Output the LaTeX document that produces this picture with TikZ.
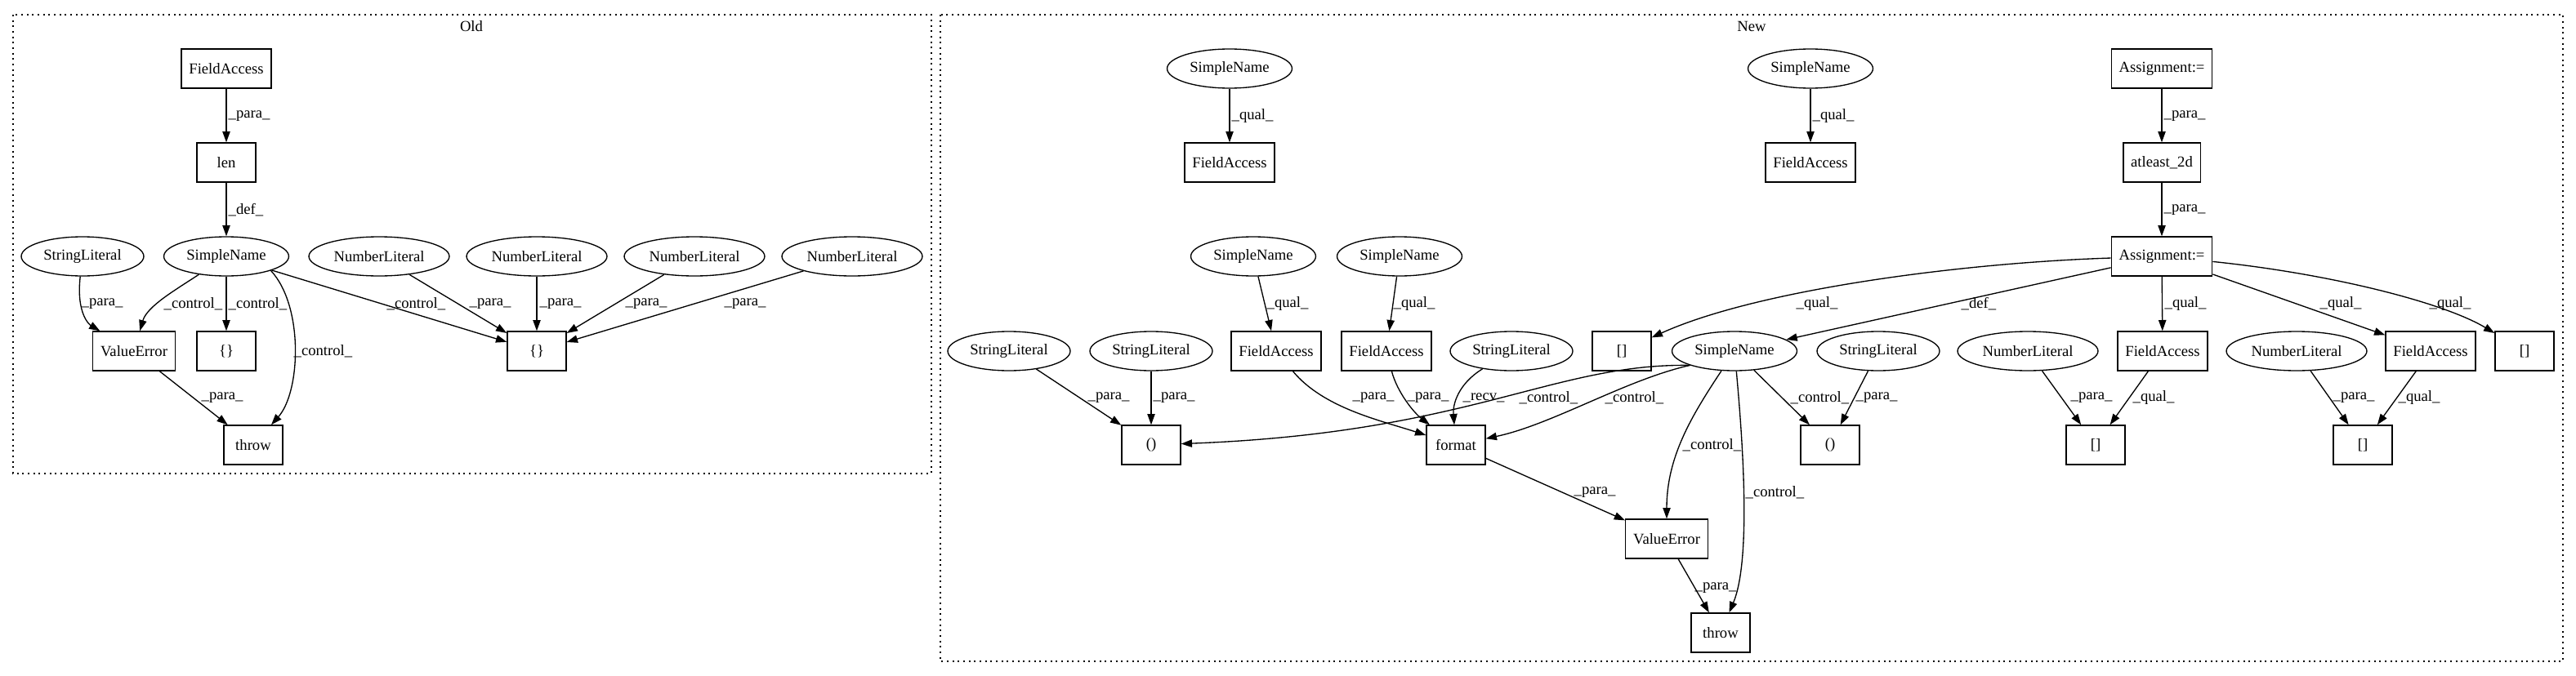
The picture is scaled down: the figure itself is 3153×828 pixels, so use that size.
\documentclass[tikz,border=0pt]{standalone}
\usepackage{fontspec}
\setmainfont{Liberation Serif}
\usetikzlibrary{shapes.geometric}
\usetikzlibrary{arrows.meta}

\begin{document}
\begin{tikzpicture}[>={Triangle[length=10pt, width=7pt]}, x=0.75pt, y=-0.75pt, line width=1pt,
    font=\fontsize{14pt}{16pt}\selectfont]
  \tikzset{box/.style = { draw, rectangle, minimum width = 54pt, minimum height = 36pt, inner xsep = 7pt }}
  \tikzset{oval/.style = { draw, ellipse, minimum height = 36pt, inner xsep = 4pt, inner ysep = 2pt }}
  \tikzset{lbl/.style = { anchor = west, inner sep = 0pt }}
  \tikzset{cluster/.style = { dash pattern = on 1.5pt off 3.5pt }}
  \useasboundingbox (0,0) rectangle (3153,828);
%  \draw [gray, very thin] (0,0) grid[step=100] (3153,828);

  % old
  \draw [cluster] (16,18) rectangle (1140,580);
  \node[name = oldLbl] at (577,32) {Old};

  \node[name = oFA, box] at (277,84) {FieldAccess};
  \node[name = oLen, box] at (277,199) {len};
  \node[name = oSL, oval] at (101,314) {StringLiteral};
  \node[name = oSN, oval] at (277,314) {SimpleName};
  \node[name = oNL1, oval] at (464,314) {NumberLiteral};
  \node[name = oNL2, oval] at (657,314) {NumberLiteral};
  \node[name = oNL3, oval] at (850,314) {NumberLiteral};
  \node[name = oNL4, oval] at (1043,314) {NumberLiteral};
  \node[name = oVE, box] at (164,430) {ValueError};
  \node[name = oBr1, box] at (277,430) {\{\}};
  \node[name = oBr2, box] at (657,430) {\{\}};
  \node[name = oThrow, box] at (310,545) {throw};

  \draw [->] (oFA) -- (oLen) node[lbl] at (279,142) {\_para\_};
  \draw [->] (oLen) -- (oSN) node[lbl] at (279,257) {\_def\_};
  \draw [->] (oSL) .. controls (93,385) and (110,398) .. (oVE) node[lbl] at (99,372) {\_para\_};
  \draw [->] (oSN) .. controls (215,355) and (180,375) .. (oVE) node[lbl] at (200,372) {\_control\_};
  \draw [->] (oSN) -- (oBr1) node[lbl] at (279,372) {\_control\_};
  \draw [->] (oSN.south east) .. controls (372,375) and (368,480) .. (oThrow) node[lbl] at (359,430) {\_control\_};
  \draw [->] (oSN) -- (oBr2) node[lbl] at (473,372) {\_control\_};
  \draw [->] (oNL1) -- (oBr2) node[lbl] at (574,372) {\_para\_};
  \draw [->] (oNL2) -- (oBr2) node[lbl] at (660,372) {\_para\_};
  \draw [->] (oNL3) -- (oBr2) node[lbl] at (765,372) {\_para\_};
  \draw [->] (oNL4) -- (oBr2) node[lbl] at (886,372) {\_para\_};
  \draw [->] (oVE) -- (oThrow) node[lbl] at (246,487) {\_para\_};

  % new
  \draw [cluster] (1151,18) rectangle (3137,810);
  \node[name = newLbl] at (2144,32) {New};

  \node[name = nSN1, oval] at (1505,84) {SimpleName};
  \node[name = nSN2, oval] at (2216,84) {SimpleName};
  \node[name = nAs1, box] at (2646,84) {Assignment:=};
  \node[name = nFA1, box] at (1505,199) {FieldAccess};
  \node[name = nFA2, box] at (2216,199) {FieldAccess};
  \node[name = nAt, box] at (2646,199) {atleast\_2d};
  \node[name = nSN3, oval] at (1534,314) {SimpleName};
  \node[name = nSN4, oval] at (1713,314) {SimpleName};
  \node[name = nAs2, box] at (2646,314) {Assignment:=};

  \node[name = nSL1, oval] at (1235,430) {StringLiteral};
  \node[name = nSL2, oval] at (1409,430) {StringLiteral};
  \node[name = nFA3, box] at (1562,430) {FieldAccess};
  \node[name = nFA4, box] at (1697,430) {FieldAccess};
  \node[name = nSL3, oval] at (1850,430) {StringLiteral};
  \node[name = nSq1, box] at (1985,430) {[]};
  \node[name = nSN5, oval] at (2123,430) {SimpleName};
  \node[name = nSL4, oval] at (2299,430) {StringLiteral};
  \node[name = nNL1, oval] at (2482,430) {NumberLiteral};
  \node[name = nFA5, box] at (2647,430) {FieldAccess};
  \node[name = nNL2, oval] at (2811,430) {NumberLiteral};
  \node[name = nFA6, box] at (2975,430) {FieldAccess};
  \node[name = nSq2, box] at (3090,430) {[]};

  \node[name = nPar1, box] at (1409,545) {()};
  \node[name = nFmt, box] at (1782,545) {format};
  \node[name = nPar2, box] at (2240,545) {()};
  \node[name = nSq3, box] at (2565,545) {[]};
  \node[name = nSq4, box] at (2892,545) {[]};
  \node[name = nVE, box] at (2040,660) {ValueError};
  \node[name = nThrow, box] at (2106,775) {throw};

  \draw [->] (nSN1) -- (nFA1) node[lbl] at (1507,142) {\_qual\_};
  \draw [->] (nSN2) -- (nFA2) node[lbl] at (2218,142) {\_qual\_};
  \draw [->] (nAs1) -- (nAt) node[lbl] at (2648,142) {\_para\_};
  \draw [->] (nAt) -- (nAs2) node[lbl] at (2648,257) {\_para\_};
  \draw [->] (nSN3) -- (nFA3) node[lbl] at (1550,372) {\_qual\_};
  \draw [->] (nSN4) -- (nFA4) node[lbl] at (1705,372) {\_qual\_};

  \draw [->] (nAs2) .. controls (2400,322) and (2150,355) .. (nSq1) node[lbl] at (2198,372) {\_qual\_};
  \draw [->] (nAs2) -- (nSN5) node[lbl] at (2400,372) {\_def\_};
  \draw [->] (nAs2) -- (nFA5) node[lbl] at (2649,372) {\_qual\_};
  \draw [->] (nAs2) -- (nFA6) node[lbl] at (2839,372) {\_qual\_};
  \draw [->] (nAs2) .. controls (2850,335) and (2990,370) .. (nSq2) node[lbl] at (2973,372) {\_qual\_};

  \draw [->] (nSL1) -- (nPar1) node[lbl] at (1331,487) {\_para\_};
  \draw [->] (nSL2) -- (nPar1) node[lbl] at (1411,487) {\_para\_};
  \draw [->] (nFA3) .. controls (1620,500) and (1690,515) .. (nFmt) node[lbl] at (1655,487) {\_para\_};
  \draw [->] (nFA4) .. controls (1710,480) and (1730,505) .. (nFmt) node[lbl] at (1722,487) {\_para\_};
  \draw [->] (nSL3) .. controls (1785,470) and (1778,495) .. (nFmt) node[lbl] at (1790,487) {\_recv\_};
  \draw [->] (nSN5.south west) .. controls (1900,445) and (1800,530) .. (nPar1) node[lbl] at (1859,487) {\_control\_};
  \draw [->] (nSN5.south west) .. controls (1990,465) and (1900,520) .. (nFmt) node[lbl] at (1964,487) {\_control\_};
  \draw [->] (nSN5) .. controls (2070,510) and (2040,560) .. (nVE) node[lbl] at (2059,545) {\_control\_};
  \draw [->] (nSN5) .. controls (2135,560) and (2142,690) .. (nThrow) node[lbl] at (2136,603) {\_control\_};
  \draw [->] (nSN5) -- (nPar2) node[lbl] at (2191,487) {\_control\_};
  \draw [->] (nSL4) -- (nPar2) node[lbl] at (2271,487) {\_para\_};
  \draw [->] (nNL1) -- (nSq3) node[lbl] at (2534,487) {\_para\_};
  \draw [->] (nFA5) -- (nSq3) node[lbl] at (2610,487) {\_qual\_};
  \draw [->] (nNL2) -- (nSq4) node[lbl] at (2855,487) {\_para\_};
  \draw [->] (nFA6) -- (nSq4) node[lbl] at (2935,487) {\_qual\_};

  \draw [->] (nFmt) -- (nVE) node[lbl] at (1926,603) {\_para\_};
  \draw [->] (nVE) -- (nThrow) node[lbl] at (2074,720) {\_para\_};
\end{tikzpicture}
\end{document}
